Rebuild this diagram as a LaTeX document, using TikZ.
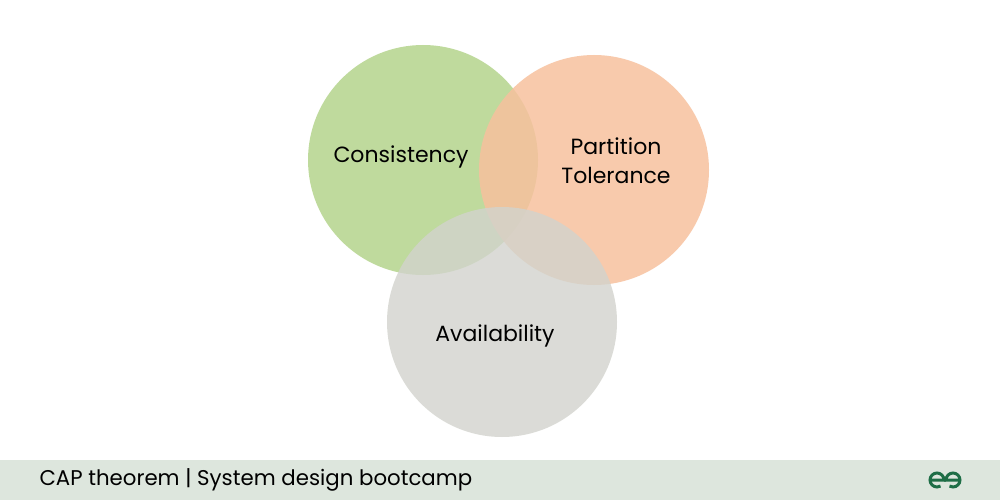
\documentclass[tikz,border=0pt]{standalone}
\usepackage{fontspec}
\setmainfont{Poppins}
\definecolor{cgreen}{RGB}{180,212,140}
\definecolor{corange}{RGB}{247,193,158}
\definecolor{cgray}{RGB}{210,211,205}
\definecolor{cband}{RGB}{221,230,221}
\definecolor{clogo}{RGB}{30,110,70}
\begin{document}
\begin{tikzpicture}[x=1pt,y=-1pt,
  lbl/.style={font=\fontsize{22}{29}\selectfont, text=black, align=center},
  circ/.style={fill opacity=0.85}]
\useasboundingbox (0,0) rectangle (1000,500);
\fill[white] (0,0) rectangle (1000,500);
\fill[circ, fill=cgreen] (423,160) circle (115);
\fill[circ, fill=corange] (594,170) circle (115);
\fill[fill=cgray, fill opacity=0.8] (502,322) circle (115);
\node[lbl] (c) at (401,157) {Consistency};
\node[lbl] (p) at (616,161) {Partition\\Tolerance};
\node[lbl] (a) at (495,336) {Availability};
\fill[cband] (0,460) rectangle (1000,500);
\node[anchor=west, font=\fontsize{21.3}{24}\selectfont] (t) at (36,480) {CAP theorem | System design bootcamp};
\begin{scope}[draw=clogo, line width=3pt]
\draw (930,480) -- (944,480) arc (0:-300:7);
\draw (960,480) -- (946,480) arc (180:480:7);
\end{scope}
\end{tikzpicture}
\end{document}
